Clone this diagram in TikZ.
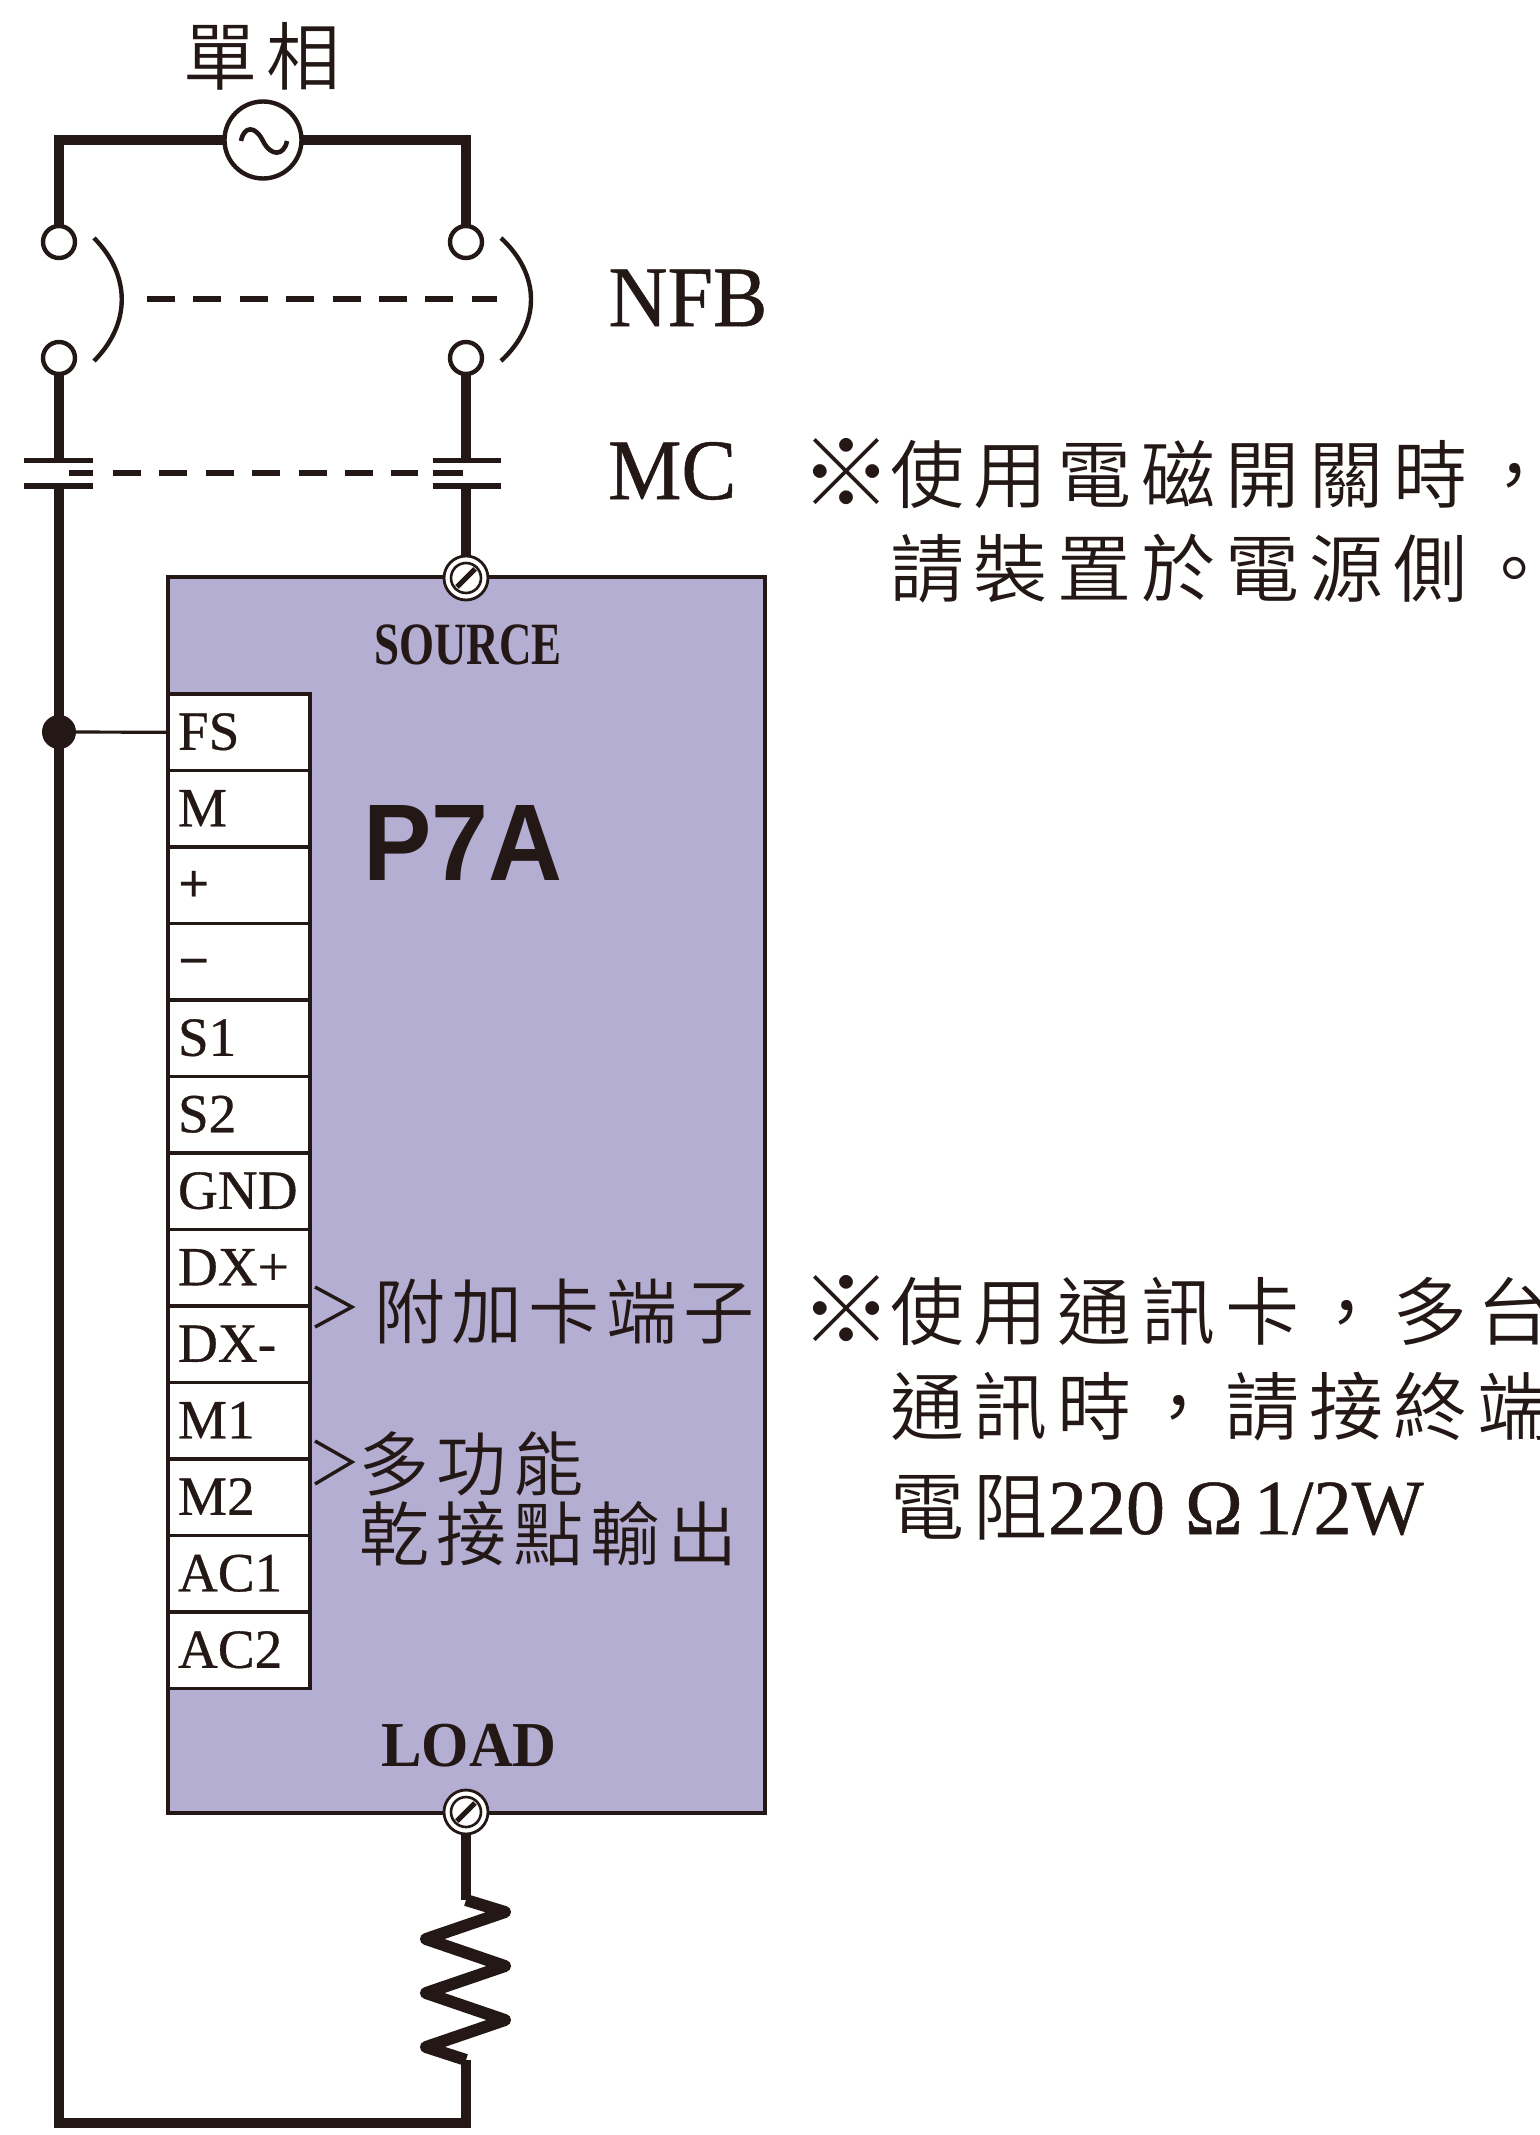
\documentclass[tikz,border=0pt]{standalone}
\usepackage{fontspec}
\usepackage{graphicx}
\usetikzlibrary{calc}
\setmainfont{Liberation Serif}
\newfontfamily\sansfam{Liberation Sans}
\newfontfamily\serifH[FakeBold=0.6]{Liberation Serif}
\newfontfamily\cjkN[LetterSpace=13.5]{Noto Sans CJK TC DemiLight}
\newfontfamily\cjkM[LetterSpace=9]{Noto Sans CJK TC DemiLight}
\newfontfamily\cjkP[LetterSpace=10]{Noto Sans CJK TC DemiLight}
\newfontfamily\cjkX{Noto Sans CJK TC Light}
\newcommand{\sz}[1]{\fontsize{#1}{#1}\selectfont}
\definecolor{ink}{HTML}{231815}
\definecolor{lav}{HTML}{B4AFD2}
\tikzset{
  lbl/.style={inner sep=0pt,outer sep=0pt,anchor=base west,text=ink},
  lblc/.style={inner sep=0pt,outer sep=0pt,anchor=base,text=ink},
  refmark/.style={inner sep=0pt,outer sep=0pt,anchor=center,text=ink},
  wire/.style={draw=ink,line width=5pt,line join=miter,line cap=butt},
  thin wire/.style={draw=ink,line width=1.6pt},
  plate/.style={draw=ink,line width=2.6pt},
  gang/.style={draw=ink,line width=2.6pt,dash pattern=on 14pt off 9.2pt},
  arcline/.style={draw=ink,line width=2.2pt},
  ring/.style={circle,draw=ink,fill=white,line width=2.2pt,inner sep=0pt,outer sep=0pt,minimum size=#1},
  screwnode/.style={circle,draw=ink,fill=white,line width=1.4pt,inner sep=0pt,outer sep=0pt,minimum size=22pt},
  cellbox/.style={draw=ink,fill=white,line width=1.9pt,inner xsep=5pt,inner ysep=0pt,outer sep=0pt,
    text width=61pt,text height=17.5pt,text depth=0pt,minimum height=38.25pt,align=left,anchor=north west,
    font=\sz{27.6}\serifH,text=ink},
  chevron/.style={draw=ink,line width=1.7pt,line join=miter}
}
\newcommand{\screwdetail}[1]{%
  \draw[draw=ink,line width=1.3pt] (#1) circle[radius=15];
  \draw[draw=ink,line width=2.6pt] ($(#1)+(-9,9)$) -- ($(#1)+(9,-9)$);
}
\begin{document}
\begin{tikzpicture}[x=0.5pt,y=-0.5pt]
\useasboundingbox (0,0) rectangle (1539,2135);
\clip (0,0) rectangle (1539,2135);
% inverter body
\node[draw=ink,fill=lav,line width=1.9pt,inner sep=0pt,outer sep=0pt,minimum width=298.5pt,minimum height=618pt,anchor=north west] (body) at (168,577) {};
% terminal strip
\foreach \i/\t in {1/FS,2/M,3/{\rmfamily\bfseries +},4/{\rmfamily\bfseries −},5/S1,6/S2,7/GND,8/DX+,9/DX-,10/M1,11/M2,12/AC1,13/AC2}{
  \node[cellbox] (c\i) at (168,{694+76.5*(\i-1)}) {\t};
}
% named points
\coordinate (tl) at (59,140);
\coordinate (tr) at (466,140);
\coordinate (bl) at (59,2123);
\coordinate (br) at (466,2123);
\coordinate (mcL1) at (59,460.5);
\coordinate (mcL2) at (59,486);
\coordinate (mcR1) at (466,460.5);
\coordinate (mcR2) at (466,486);
\coordinate (resT) at (466,1900);
\coordinate (resB) at (466,2060);
% source
\node[ring=38.5pt] (src) at (263,140) {};
% NFB terminals
\node[ring=16pt] (n1) at (59,242) {};
\node[ring=16pt] (n2) at (466,242) {};
\node[ring=16pt] (n3) at (59,358) {};
\node[ring=16pt] (n4) at (466,358) {};
% screws
\node[screwnode] (t1) at (466,578) {};
\node[screwnode] (t2) at (466,1812) {};
\screwdetail{t1}
\screwdetail{t2}
% junction
\node[circle,fill=ink,inner sep=0pt,outer sep=0pt,minimum size=17pt] (dot) at (59,732) {};
% wires
\draw[wire] (src.west) -- (tl) -- (n1.north);
\draw[wire] (src.east) -- (tr) -- (n2.north);
\draw[wire] (n3.south) -- (mcL1);
\draw[wire] (n4.south) -- (mcR1);
\draw[wire] (mcR2) -- (t1.north);
\draw[wire] (t2.south) -- (resT);
\draw[wire] (mcL2) -- (bl) -- (br) -- (resB);
\draw[wire,line width=6pt,line join=round] (resT) -- (505,1912) -- (426,1939) -- (505,1966) -- (426,1993) -- (505,2020) -- (426,2047) -- (resB);
\draw[thin wire] (dot) -- (c1.west);
% ac symbol
\draw[draw=ink,line width=2.3pt] (241,141) .. controls (244,126) and (255,125) .. (263,141) .. controls (271,157) and (284,156) .. (287,141);
% breaker arcs and link
\draw[arcline] (94,238) .. controls (131,275) and (131,324) .. (94,361);
\draw[arcline] (501,238) .. controls (541,275) and (541,324) .. (501,361);
\coordinate (nfbA) at (147,299);
\coordinate (nfbB) at (497,299);
\draw[gang] (nfbA) -- (nfbB);
% contactor
\draw[plate] (24,460.5) -- (93,460.5);
\draw[plate] (24,486) -- (93,486);
\draw[plate] (433,460.5) -- (501,460.5);
\draw[plate] (433,486) -- (501,486);
\draw[plate] (69,473) -- (93,473);
\draw[plate] (433,473) -- (463,473);
\coordinate (mcA) at (113,473);
\coordinate (mcB) at (418,473);
\draw[gang] (mcA) -- (mcB);
% chevrons
\draw[chevron] (315,1287) -- (352,1307) -- (315,1327);
\draw[chevron] (315,1441) -- (352,1462) -- (315,1484);
% labels
\node[lbl] (lSrc) at (183,85) {\sz{37}\cjkN 單相};
\node[lblc] (lNFB) at (688,326) {\sz{43}\serifH\scalebox{.95}[1]{NFB}};
\node[lbl] (lMC) at (608,499) {\sz{43}\serifH\scalebox{.96}[1]{MC}};
\node[lblc] (lSource) at (468,664) {\sz{30}\bfseries\scalebox{.75}[1]{SOURCE}};
\node[lblc] (lLoad) at (469,1766) {\sz{32}\bfseries\scalebox{.95}[1]{LOAD}};
\node[lblc] (lP7A) at (463,880) {\sz{54.5}\sansfam\bfseries\scalebox{.94}[1]{P7A}};
\node[lbl] (lCard) at (374,1338) {\sz{35.5}\cjkM 附加卡端子};
\node[lbl] (lMulti1) at (359,1490) {\sz{35}\cjkP 多功能};
\node[lbl] (lMulti2) at (359,1560) {\sz{35}\cjkP 乾接點輸出};
\node[refmark] (lStarA) at (846,472) {\sz{46}\cjkX ※};
\node[lbl] (lNoteA1) at (890,502) {\sz{37}\cjkN 使用電磁開關時，};
\node[lbl] (lNoteA2) at (890,596) {\sz{37}\cjkN 請裝置於電源側。};
\node[refmark] (lStarB) at (846,1309) {\sz{46}\cjkX ※};
\node[lbl] (lNoteB1) at (890,1339) {\sz{37}\cjkN 使用通訊卡，多台};
\node[lbl] (lNoteB2) at (890,1434) {\sz{37}\cjkN 通訊時，請接終端};
\node[lbl] (lNoteB3) at (890,1534) {\sz{37}\cjkN 電阻\hspace{0pt}\sz{39}\serifH 220\hspace{10pt}Ω\hspace{5.5pt}\scalebox{.98}[1]{1/2W}};
\end{tikzpicture}
\end{document}
